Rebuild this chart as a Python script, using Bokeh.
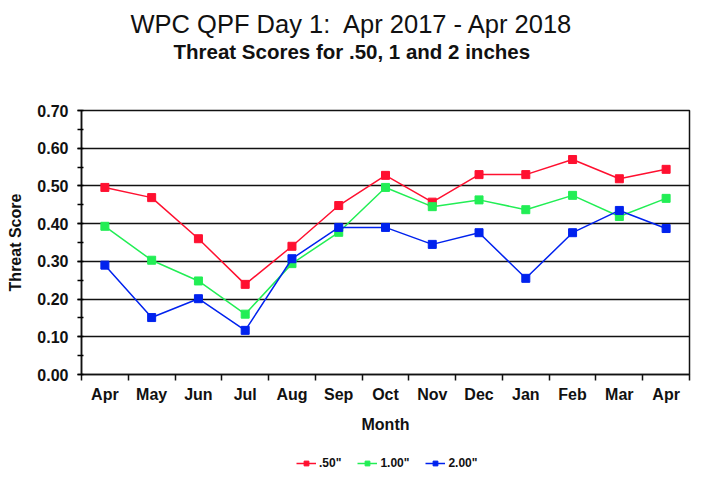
from bokeh.plotting import figure
from bokeh.layouts import column
from bokeh.models import (FixedTicker, Range1d, Legend, LegendItem, Title,
                          NumeralTickFormatter)
from bokeh.embed import file_html
from bokeh.resources import INLINE

months = ["Apr", "May", "Jun", "Jul", "Aug", "Sep", "Oct", "Nov", "Dec",
          "Jan", "Feb", "Mar", "Apr"]
ts_050 = [0.496, 0.469, 0.360, 0.239, 0.340, 0.448, 0.528, 0.457, 0.530,
          0.530, 0.570, 0.519, 0.544]
ts_100 = [0.393, 0.303, 0.248, 0.160, 0.294, 0.377, 0.496, 0.445, 0.463,
          0.437, 0.475, 0.419, 0.467]
ts_200 = [0.290, 0.151, 0.201, 0.117, 0.307, 0.390, 0.390, 0.345, 0.376,
          0.255, 0.376, 0.435, 0.387]
series_names = ['.50"', '1.00"', '2.00"']
colors = ["#ff1030", "#22ee55", "#0022ee"]

FONT = "Liberation Sans"
x = list(range(len(months)))
series = [ts_050, ts_100, ts_200]

p = figure(width=702, height=440, output_backend="svg", toolbar_location=None,
           x_range=Range1d(-0.5, len(months) - 0.5), y_range=Range1d(0, 0.7),
           min_border_left=81, min_border_right=13, min_border_top=110,
           min_border_bottom=66)
p.background_fill_color = "white"
p.border_fill_color = "white"
p.outline_line_color = "#111111"
p.outline_line_width = 1.5

# axes
p.xaxis.ticker = FixedTicker(ticks=x, minor_ticks=[i - 0.5 for i in range(len(months) + 1)])
p.xaxis.major_label_overrides = {i: m for i, m in enumerate(months)}
p.xaxis.major_tick_line_color = None
p.xaxis.minor_tick_out = 6
p.xaxis.minor_tick_in = 0
p.xaxis.minor_tick_line_width = 1.5
p.xaxis.minor_tick_line_color = "#111111"
p.xaxis.axis_label = "Month"
p.xaxis.major_label_standoff = 5
p.xaxis.axis_label_standoff = 10

p.yaxis.ticker = FixedTicker(ticks=[i / 10 for i in range(8)],
                             minor_ticks=[i / 20 for i in range(15)])
p.yaxis.formatter = NumeralTickFormatter(format="0.00")
p.yaxis.major_tick_out = 4
p.yaxis.major_tick_in = 0
p.yaxis.minor_tick_out = 4
p.yaxis.minor_tick_in = 2
p.yaxis.minor_tick_line_width = 1.5
p.yaxis.major_tick_line_width = 1.5
p.yaxis.axis_label = "Threat Score"
p.yaxis.major_label_standoff = 9
p.yaxis.axis_label_standoff = 10

for ax in (p.xaxis, p.yaxis):
    ax.axis_line_color = "#111111"
    ax.axis_line_width = 1.5
    ax.major_label_text_font = FONT
    ax.major_label_text_font_style = "bold"
    ax.major_label_text_font_size = "16px"
    ax.major_label_text_color = "#111111"
    ax.axis_label_text_font = FONT
    ax.axis_label_text_font_style = "bold"
    ax.axis_label_text_font_size = "16px"
    ax.axis_label_text_color = "#111111"

p.xgrid.grid_line_color = None
p.ygrid.grid_line_color = "#111111"
p.ygrid.grid_line_width = 1.5

for vals, c in zip(series, colors):
    p.line(x, vals, line_color=c, line_width=1.5)
    p.scatter(x, vals, marker="square", size=8, fill_color=c, line_color=c)

# panels above, listed from the frame outward: spacer, subtitle, title
p.add_layout(Title(text=" ", text_font=FONT, text_font_size="10px", standoff=35), "above")
p.add_layout(Title(text="Threat Scores for .50, 1 and 2 inches", align="left", offset=92,
                   text_font=FONT, text_font_style="bold",
                   text_font_size="20.5px", text_color="#111111", standoff=0), "above")
p.add_layout(Title(text="WPC QPF Day 1:\u00a0 Apr 2017 - Apr 2018", align="left", offset=49,
                   text_font=FONT, text_font_style="normal",
                   text_font_size="25.5px", text_color="#111111", standoff=0), "above")

# legend strip below the chart (series drawn off-view, only the legend shows)
lg = figure(width=702, height=38, output_backend="svg", toolbar_location=None,
            x_range=Range1d(100, 101), y_range=Range1d(100, 101),
            x_axis_type=None, y_axis_type=None,
            min_border_left=0, min_border_right=0, min_border_top=0, min_border_bottom=0)
lg.outline_line_color = None
lg.grid.grid_line_color = None
lg.background_fill_color = "white"
lg.border_fill_color = "white"

items = []
for vals, name, c in zip(series, series_names, colors):
    ln = lg.line(x, vals, line_color=c, line_width=1.5)
    sc = lg.scatter(x, vals, marker="square", size=8, fill_color=c, line_color=c)
    items.append(LegendItem(label=name, renderers=[ln, sc]))

legend = Legend(items=items, orientation="horizontal", location=(215, 8),
                label_text_font=FONT, label_text_font_style="bold",
                label_text_font_size="12px", label_text_color="#111111",
                glyph_width=20, glyph_height=12, label_height=12,
                label_standoff=3, spacing=16,
                padding=2, margin=0, border_line_color=None,
                background_fill_alpha=0)
lg.add_layout(legend, "center")

layout = column(p, lg, spacing=0)
open("out.html", "w").write(file_html(layout, INLINE))
